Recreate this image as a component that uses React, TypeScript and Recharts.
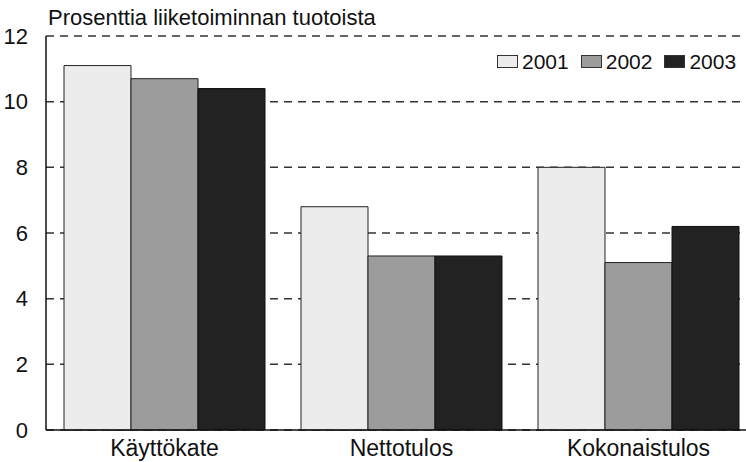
import React from 'react';
import { BarChart, Bar, XAxis, YAxis, CartesianGrid, Legend } from 'recharts';

const categories = ['Käyttökate', 'Nettotulos', 'Kokonaistulos'];
const values2001 = [11.1, 6.8, 8.0];
const values2002 = [10.7, 5.3, 5.1];
const values2003 = [10.4, 5.3, 6.2];
const yTicks = [0, 2, 4, 6, 8, 10, 12];
const title = 'Prosenttia liiketoiminnan tuotoista';

const data = categories.map((c, i) => ({
  name: c,
  y2001: values2001[i],
  y2002: values2002[i],
  y2003: values2003[i],
}));

const FONT = '"Liberation Sans", Arial, sans-serif';

const LegendContent = (props: any) => {
  const { payload } = props;
  return (
    <div style={{ display: 'flex', alignItems: 'center', fontFamily: FONT, fontSize: 21, lineHeight: '21px', color: '#111' }}>
      {(payload || []).map((p: any, i: number) => (
        <div key={i} style={{ display: 'flex', alignItems: 'center', marginRight: 12 }}>
          <span style={{ display: 'inline-block', width: 19, height: 11, background: p.color, border: '1px solid #333', marginRight: 4 }} />
          <span>{p.value}</span>
        </div>
      ))}
    </div>
  );
};

export default function App() {
  return (
    <div style={{ position: 'absolute', left: 0, top: 0, width: 746, height: 462, overflow: 'hidden', background: '#fff' }}>
      <div style={{ position: 'absolute', left: 48, top: 7, fontFamily: FONT, fontSize: 22, lineHeight: '22px', color: '#111', whiteSpace: 'nowrap' }}>
        {title}
      </div>
      <BarChart
        width={770}
        height={462}
        data={data}
        margin={{ top: 36, right: 13, left: 0, bottom: 0 }}
        barCategoryGap={18}
        barGap={0}
      >
        <CartesianGrid vertical={false} strokeDasharray="8 6" stroke="#333" strokeWidth={1.5} />
        <XAxis
          dataKey="name"
          height={32}
          axisLine={{ stroke: '#111', strokeWidth: 1.5 }}
          tickLine={false}
          tickSize={0}
          tickMargin={10}
          tick={{ fill: '#111', fontSize: 23, fontFamily: FONT }}
          interval={0}
        />
        <YAxis
          width={46}
          domain={[0, 12]}
          ticks={yTicks}
          axisLine={{ stroke: '#111', strokeWidth: 1.5 }}
          tickLine={false}
          tickSize={0}
          tickMargin={18}
          tick={{ fill: '#111', fontSize: 22, fontFamily: FONT }}
        />
        <Legend
          layout="horizontal"
          verticalAlign="middle"
          align="center"
          content={<LegendContent />}
          wrapperStyle={{ position: 'absolute', top: 51, left: 497, width: 270 }}
        />
        <Bar dataKey="y2001" name="2001" fill="#ececec" stroke="#222" strokeWidth={1} isAnimationActive={false} />
        <Bar dataKey="y2002" name="2002" fill="#9c9c9c" stroke="#222" strokeWidth={1} isAnimationActive={false} />
        <Bar dataKey="y2003" name="2003" fill="#222222" stroke="#111" strokeWidth={1} isAnimationActive={false} />
      </BarChart>
    </div>
  );
}
